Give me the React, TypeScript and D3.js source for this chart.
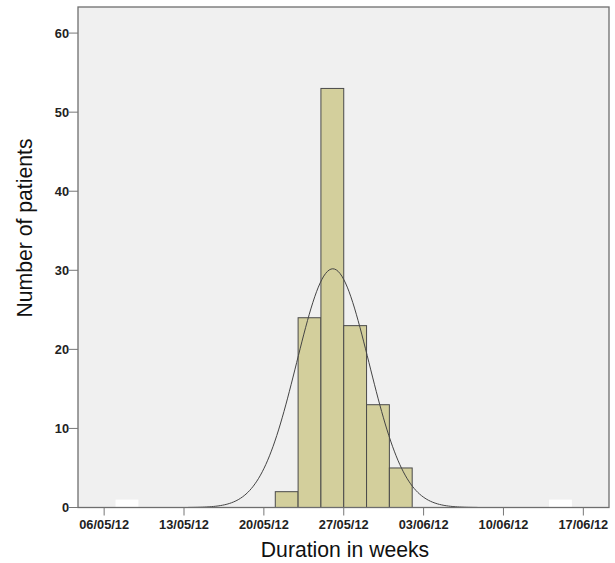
import React, { useEffect, useRef } from 'react';
import * as d3 from 'd3';

// histogram bins: start date (2-day width) and count
const binStarts = ['2012-05-21', '2012-05-23', '2012-05-25', '2012-05-27', '2012-05-29', '2012-05-31'];
const binCounts = [2, 24, 53, 23, 13, 5];
// small white bars at the edges of the range
const edgeStarts = ['2012-05-07', '2012-06-14'];
const edgeCounts = [1, 1];
const binDays = 2;
const tickDates = ['2012-05-06', '2012-05-13', '2012-05-20', '2012-05-27', '2012-06-03', '2012-06-10', '2012-06-17'];
const yTicks = [0, 10, 20, 30, 40, 50, 60];
// normal curve fitted to the data (mean date, sd in days, total n)
const curveMean = '2012-05-26T01:00';
const curveSdDays = 3.17;
const curveN = 120;

const parse = (s: string) => {
  const [d, t] = s.split('T');
  const [y, m, dd] = d.split('-').map(Number);
  const [hh, mm] = t ? t.split(':').map(Number) : [0, 0];
  return new Date(y, m - 1, dd, hh, mm);
};
const DAY = 86400000;
const fmt = d3.timeFormat('%d/%m/%y');

const App = () => {
  const svgRef = useRef<SVGSVGElement>(null);

  useEffect(() => {
    const svg = d3.select(svgRef.current);
    svg.selectAll('*').remove();

    const left = 78, right = 609, top = 7, bottom = 507.5;
    const x = d3.scaleTime()
      .domain([parse('2012-05-03T17:00'), parse('2012-06-19T06:00')])
      .range([left, right]);
    const y = d3.scaleLinear().domain([0, 63.3]).range([bottom, top]);

    svg.append('rect')
      .attr('x', left).attr('y', top)
      .attr('width', right - left).attr('height', bottom - top)
      .attr('fill', '#f0f0f0');

    const bins = binStarts.map((s, i) => ({ start: parse(s), count: binCounts[i] }));
    svg.append('g').selectAll('rect')
      .data(bins).enter().append('rect')
      .attr('x', d => x(d.start))
      .attr('y', d => y(d.count))
      .attr('width', d => x(new Date(+d.start + binDays * DAY)) - x(d.start))
      .attr('height', d => y(0) - y(d.count))
      .attr('fill', '#d3cf9c')
      .attr('stroke', '#4a4a4a')
      .attr('stroke-width', 1);

    const edges = edgeStarts.map((s, i) => ({ start: parse(s), count: edgeCounts[i] }));
    svg.append('g').selectAll('rect')
      .data(edges).enter().append('rect')
      .attr('x', d => x(d.start))
      .attr('y', d => y(d.count))
      .attr('width', d => x(new Date(+d.start + binDays * DAY)) - x(d.start))
      .attr('height', d => y(0) - y(d.count))
      .attr('fill', '#ffffff');

    // normal curve
    const mu = +parse(curveMean);
    const sd = curveSdDays * DAY;
    const pts = d3.range(-4, 4.001, 0.05).map(z => {
      const t = mu + z * sd;
      const v = curveN * binDays / (curveSdDays * Math.sqrt(2 * Math.PI)) * Math.exp(-z * z / 2);
      return [t, v] as [number, number];
    });
    svg.append('path')
      .attr('d', d3.line<[number, number]>().x(d => x(new Date(d[0]))).y(d => y(d[1])).curve(d3.curveBasis)(pts))
      .attr('fill', 'none')
      .attr('stroke', '#444')
      .attr('stroke-width', 1);

    // frame
    svg.append('rect')
      .attr('x', left).attr('y', top)
      .attr('width', right - left).attr('height', bottom - top)
      .attr('fill', 'none')
      .attr('stroke', '#6e6e6e')
      .attr('stroke-width', 1.3);

    const font = '"Liberation Sans", Arial, sans-serif';

    // y axis
    const yg = svg.append('g');
    yTicks.forEach(t => {
      yg.append('line')
        .attr('x1', left - 9).attr('x2', left)
        .attr('y1', y(t)).attr('y2', y(t))
        .attr('stroke', '#777').attr('stroke-width', 1);
      yg.append('text')
        .attr('x', left - 9).attr('y', y(t) + 4.5)
        .attr('text-anchor', 'end')
        .attr('font-family', font).attr('font-size', 12.8).attr('font-weight', 'bold')
        .attr('fill', '#222')
        .text(t);
    });

    // x axis
    const xg = svg.append('g');
    tickDates.map(parse).forEach(d => {
      xg.append('line')
        .attr('x1', x(d)).attr('x2', x(d))
        .attr('y1', bottom).attr('y2', bottom + 8)
        .attr('stroke', '#777').attr('stroke-width', 1);
      xg.append('text')
        .attr('x', x(d)).attr('y', bottom + 21)
        .attr('text-anchor', 'middle')
        .attr('font-family', font).attr('font-size', 12.8).attr('font-weight', 'bold')
        .attr('fill', '#222')
        .text(fmt(d));
    });

    svg.append('text')
      .attr('x', 345).attr('y', 557)
      .attr('text-anchor', 'middle')
      .attr('font-family', font).attr('font-size', 21.2)
      .attr('fill', '#111')
      .text('Duration in weeks');

    svg.append('text')
      .attr('transform', 'translate(32,228) rotate(-90)')
      .attr('text-anchor', 'middle')
      .attr('font-family', font).attr('font-size', 21.2)
      .attr('fill', '#111')
      .text('Number of patients');
  }, []);

  return (
    <div style={{ position: 'absolute', left: 0, top: 0 }}>
      <svg ref={svgRef} width={615} height={563} style={{ display: 'block', background: '#fff' }} />
    </div>
  );
};

export default App;
